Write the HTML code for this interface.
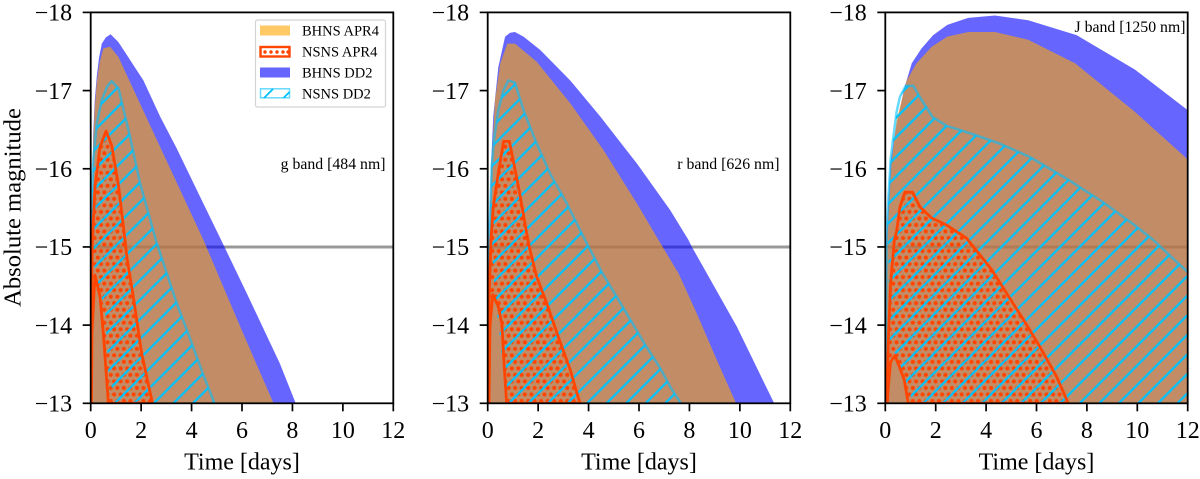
<!DOCTYPE html>
<html lang="en">
<head>
<meta charset="utf-8">
<title>Kilonova light curves</title>
<style>
html,body{margin:0;padding:0;background:#fff;}
svg{display:block;font-family:"Liberation Serif",serif;}
</style>
</head>
<body>
<svg id="chart" xmlns="http://www.w3.org/2000/svg" width="1200" height="479" viewBox="0 0 1200 479">
<defs id="defs"></defs>
<g id="panels"></g>
<text transform="translate(20.5,207.5) rotate(-90)" text-anchor="middle" font-size="24.6" fill="#000">Absolute magnitude</text>
<g>
  <rect x="255.5" y="20" width="130" height="87" rx="2" fill="#fff" fill-opacity="0.85" stroke="#d4d4d4" stroke-width="1.2"/>
  <rect x="260" y="25.5" width="30" height="10" fill="#ffc966"/>
  <rect x="260.5" y="47" width="29" height="9.5" fill="#fff" stroke="#ff4500" stroke-width="2.4"/>
  <g fill="#ff4500">
    <circle cx="265" cy="52" r="1.7"/><circle cx="271" cy="52" r="1.7"/><circle cx="277" cy="52" r="1.7"/><circle cx="283" cy="52" r="1.7"/><circle cx="288" cy="52" r="1.7"/>
  </g>
  <rect x="260" y="67.5" width="30" height="10" fill="#6666ff"/>
  <rect x="260.5" y="88.8" width="29" height="9" fill="#fff" stroke="#66d9ff" stroke-width="1.5"/>
  <g stroke="#00c0ff" stroke-width="1.8">
    <line x1="264" y1="98" x2="273" y2="89"/><line x1="283.5" y1="98" x2="289.5" y2="92"/>
  </g>
  <g font-size="14.5" fill="#000">
    <text x="302" y="35.5">BHNS APR4</text>
    <text x="302" y="56.5">NSNS APR4</text>
    <text x="302" y="77.5">BHNS DD2</text>
    <text x="302" y="98.5">NSNS DD2</text>
  </g>
</g>
</svg>
<script>
// ---------- tick labels ----------
const xTickValues = [0, 2, 4, 6, 8, 10, 12];
const yTickValues = [-18, -17, -16, -15, -14, -13];
const thresholdMagnitude = -15;

// ---------- g band ----------
const gBhnsDd2Time = [0, 0.03, 0.1, 0.16, 0.24, 0.33, 0.44, 0.6, 0.79, 1.1, 2.09, 2.75, 3.41, 4.34, 5.17, 6.2, 7.5, 8.13];
const gBhnsDd2Mag = [-13, -15.1, -16.45, -16.87, -17.18, -17.42, -17.6, -17.68, -17.72, -17.62, -17.13, -16.67, -16.26, -15.64, -15.09, -14.4, -13.51, -13];
const gBhnsApr4Time = [0, 0.03, 0.1, 0.16, 0.24, 0.35, 0.5, 0.77, 1.1, 2.78, 4.47, 5.93, 7.25];
const gBhnsApr4Mag = [-13, -15.0, -16.35, -16.78, -17.1, -17.35, -17.54, -17.56, -17.43, -16.26, -15.09, -13.98, -13];
const gNsnsDd2Time = [0.01, 0.04, 0.1, 0.24, 0.44, 0.65, 0.83, 1.1, 1.56, 1.96, 2.62, 3.41, 3.81, 4.47, 4.91];
const gNsnsDd2Mag = [-13, -15.5, -16.1, -16.58, -16.88, -17.05, -17.12, -17.03, -16.41, -15.81, -15.05, -14.28, -13.94, -13.36, -13];
const gNsnsDd2LowTime = [0.01, 0.03, 0.06, 0.15, 0.3, 0.57, 0.63, 0.7, 0.97];
const gNsnsDd2LowMag = [-13, -14.2, -15.4, -14.75, -14.53, -14.17, -13.81, -13.4, -13];
const gNsnsApr4Time = [0.01, 0.03, 0.07, 0.17, 0.37, 0.61, 0.83, 1.1, 1.36, 1.43, 1.69, 2.02, 2.45];
const gNsnsApr4Mag = [-13, -14.5, -15.09, -15.77, -16.28, -16.48, -16.3, -15.79, -15.09, -14.88, -14.36, -13.64, -13];
const gNsnsApr4LowTime = [0.03, 0.05, 0.17, 0.37, 0.5, 0.7];
const gNsnsApr4LowMag = [-13, -13.9, -14.64, -14.36, -13.9, -13];

// ---------- r band ----------
const rBhnsDd2Time = [0, 0.05, 0.14, 0.22, 0.42, 0.69, 0.89, 1.08, 1.42, 2.08, 3.27, 4.46, 5.91, 7.24, 7.96, 8.1, 9.88, 11.36];
const rBhnsDd2Mag = [-13, -15.0, -16.1, -16.67, -17.3, -17.69, -17.74, -17.75, -17.69, -17.52, -17.13, -16.67, -16.07, -15.47, -15.09, -15, -13.98, -13];
const rBhnsApr4Time = [0, 0.05, 0.14, 0.29, 0.5, 0.78, 1.08, 1.94, 3.27, 4.59, 5.91, 6.77, 7.57, 8.29, 9.09, 9.85];
const rBhnsApr4Mag = [-13, -14.9, -16.0, -16.88, -17.35, -17.6, -17.6, -17.37, -16.84, -16.24, -15.56, -15.09, -14.66, -14.15, -13.55, -13];
const rNsnsDd2Time = [0.01, 0.05, 0.16, 0.25, 0.42, 0.62, 0.82, 1.08, 1.42, 1.88, 2.47, 3.13, 3.86, 4.52, 5.12, 5.71, 6.24, 6.84, 7.24, 7.66];
const rNsnsDd2Mag = [-13, -15.0, -16.03, -16.37, -16.75, -17.0, -17.13, -17.1, -16.75, -16.37, -15.94, -15.56, -15.09, -14.68, -14.36, -14.04, -13.75, -13.45, -13.21, -13];
const rNsnsDd2LowTime = [0.02, 0.05, 0.1, 0.29, 0.5, 0.62, 0.86];
const rNsnsDd2LowMag = [-13, -14.5, -15.3, -14.36, -13.8, -13.38, -13];
const rNsnsApr4Time = [0.02, 0.05, 0.13, 0.22, 0.42, 0.63, 0.86, 1.22, 1.55, 1.65, 1.94, 2.34, 2.8, 3.27, 3.66];
const rNsnsApr4Mag = [-13, -14.3, -15.09, -15.51, -15.94, -16.35, -16.35, -15.77, -15.17, -15, -14.62, -14.28, -13.85, -13.43, -13];
const rNsnsApr4LowTime = [0.05, 0.09, 0.2, 0.42, 0.56, 0.66, 0.75];
const rNsnsApr4LowMag = [-13, -13.98, -14.39, -14.24, -14.02, -13.45, -13];

// ---------- J band ----------
const jBhnsDd2Time = [0, 0.05, 0.12, 0.21, 0.45, 0.78, 1.05, 1.44, 1.9, 2.46, 3.29, 4.35, 5.67, 7.59, 9.9, 12];
const jBhnsDd2Mag = [-13, -15.1, -15.6, -16.1, -16.58, -17.06, -17.35, -17.54, -17.71, -17.84, -17.93, -17.96, -17.9, -17.71, -17.27, -16.75];
const jBhnsApr4Time = [0, 0.05, 0.12, 0.21, 0.45, 0.85, 1.24, 1.84, 2.46, 3.29, 4.35, 5.67, 7.53, 9.9, 12];
const jBhnsApr4Mag = [-13, -15.0, -15.5, -16.0, -16.62, -17.13, -17.35, -17.56, -17.69, -17.75, -17.75, -17.65, -17.35, -16.73, -16.12];
const jNsnsDd2Time = [0.01, 0.05, 0.12, 0.21, 0.32, 0.45, 0.58, 0.81, 1.11, 1.44, 1.88, 2.43, 3.49, 4.55, 5.74, 7.26, 8.65, 9.97, 10.63, 11.69, 12];
const jNsnsDd2Mag = [-13, -15.17, -15.6, -16.11, -16.41, -16.73, -16.92, -17.06, -17.06, -16.88, -16.66, -16.55, -16.44, -16.32, -16.15, -15.86, -15.57, -15.26, -15.09, -14.77, -14.68];
const jNsnsDd2LowTime = [0.01, 0.03, 0.08, 0.12, 0.18, 0.45, 0.78, 1.11, 12];
const jNsnsDd2LowMag = [-13, -14.2, -15.3, -14.83, -13.7, -13.62, -13.3, -13, -13];
const jNsnsApr4Time = [0.05, 0.12, 0.21, 0.36, 0.45, 0.58, 0.78, 1.08, 1.38, 1.84, 2.43, 3.23, 4.22, 4.81, 5.48, 6.14, 6.8, 7.26];
const jNsnsApr4Mag = [-13, -13.81, -14.53, -15.09, -15.2, -15.51, -15.7, -15.7, -15.51, -15.37, -15.28, -15.11, -14.71, -14.41, -14.07, -13.72, -13.34, -13];
const jNsnsApr4LowTime = [0.08, 0.12, 0.21, 0.38, 0.58, 0.75, 0.91];
const jNsnsApr4LowMag = [-13, -13.21, -13.53, -13.61, -13.45, -13.3, -13];

const panels = [
  {key:'g', left:90.7, right:393.3, hatchC:518, dotX:0, dotY:0,
   label:'g band [484 nm]', labelX:385.5, labelY:169,
   bhnsDd2:[gBhnsDd2Time,gBhnsDd2Mag], bhnsApr4:[gBhnsApr4Time,gBhnsApr4Mag],
   nsnsDd2:[gNsnsDd2Time,gNsnsDd2Mag,gNsnsDd2LowTime,gNsnsDd2LowMag],
   nsnsApr4:[gNsnsApr4Time,gNsnsApr4Mag,gNsnsApr4LowTime,gNsnsApr4LowMag]},
  {key:'r', left:487.7, right:790.3, hatchC:990.3, dotX:0, dotY:0,
   label:'r band [626 nm]', labelX:779.5, labelY:169,
   bhnsDd2:[rBhnsDd2Time,rBhnsDd2Mag], bhnsApr4:[rBhnsApr4Time,rBhnsApr4Mag],
   nsnsDd2:[rNsnsDd2Time,rNsnsDd2Mag,rNsnsDd2LowTime,rNsnsDd2LowMag],
   nsnsApr4:[rNsnsApr4Time,rNsnsApr4Mag,rNsnsApr4LowTime,rNsnsApr4LowMag]},
  {key:'j', left:885.3, right:1187.7, hatchC:1483, dotX:0, dotY:0,
   label:'J band [1250 nm]', labelX:1185.5, labelY:32,
   bhnsDd2:[jBhnsDd2Time,jBhnsDd2Mag], bhnsApr4:[jBhnsApr4Time,jBhnsApr4Mag],
   nsnsDd2:[jNsnsDd2Time,jNsnsDd2Mag,jNsnsDd2LowTime,jNsnsDd2LowMag],
   nsnsApr4:[jNsnsApr4Time,jNsnsApr4Mag,jNsnsApr4LowTime,jNsnsApr4LowMag]}
];

const SVGNS = 'http://www.w3.org/2000/svg';
const TOP = 12.4, BOTTOM = 403.3, HATCH = 19.55, DOT = 6.52;
const defs = document.getElementById('defs');
const root = document.getElementById('panels');

function mk(tag, attrs, parent) {
  const e = document.createElementNS(SVGNS, tag);
  for (const k in attrs) e.setAttribute(k, attrs[k]);
  if (parent) parent.appendChild(e);
  return e;
}
function yScale(m) { return TOP + (m + 18) / 5 * (BOTTOM - TOP); }

function bandPath(xs, series) {
  const pts = [];
  series[0].forEach((t, i) => pts.push([xs(t), yScale(series[1][i])]));
  if (series.length > 2) {
    for (let i = series[2].length - 1; i >= 0; i--) pts.push([xs(series[2][i]), yScale(series[3][i])]);
  } else {
    pts.push([xs(series[0][series[0].length - 1]), BOTTOM]);
  }
  return 'M' + pts.map(p => p[0].toFixed(2) + ' ' + p[1].toFixed(2)).join('L') + 'Z';
}
function upperPath(xs, series) {
  return 'M' + series[0].map((t, i) => xs(t).toFixed(2) + ' ' + yScale(series[1][i]).toFixed(2)).join('L');
}

panels.forEach(function (p) {
  const xs = t => p.left + t / 12 * (p.right - p.left);

  // clip + fill patterns
  const clip = mk('clipPath', {id: 'clip-' + p.key}, defs);
  mk('rect', {x: p.left, y: TOP, width: p.right - p.left, height: BOTTOM - TOP}, clip);

  const hat = mk('pattern', {id: 'hatch-' + p.key, patternUnits: 'userSpaceOnUse', width: HATCH, height: HATCH,
    patternTransform: 'translate(' + (p.hatchC % HATCH).toFixed(2) + ',0)'}, defs);
  const hl = {stroke: '#00c3ff', 'stroke-width': 2.2};
  mk('line', Object.assign({x1: -2, y1: 2, x2: 2, y2: -2}, hl), hat);
  mk('line', Object.assign({x1: -2, y1: HATCH + 2, x2: HATCH + 2, y2: -2}, hl), hat);
  mk('line', Object.assign({x1: HATCH - 2, y1: HATCH + 2, x2: HATCH + 2, y2: HATCH - 2}, hl), hat);

  const dots = mk('pattern', {id: 'dots-' + p.key, patternUnits: 'userSpaceOnUse', width: DOT, height: DOT * 2,
    patternTransform: 'translate(' + p.dotX + ',' + p.dotY + ')'}, defs);
  mk('circle', {cx: DOT / 2, cy: DOT / 2, r: 2.05, fill: '#ff4500'}, dots);
  mk('circle', {cx: 0, cy: DOT * 1.5, r: 2.05, fill: '#ff4500'}, dots);
  mk('circle', {cx: DOT, cy: DOT * 1.5, r: 2.05, fill: '#ff4500'}, dots);

  const g = mk('g', {}, root);
  
  

  const marks = mk('g', {'clip-path': 'url(#clip-' + p.key + ')'}, g);
  
  

  const thr = mk('line', {x1: xs(0), x2: xs(12), y1: yScale(thresholdMagnitude), y2: yScale(thresholdMagnitude), stroke: '#000', 'stroke-opacity': 0.4, 'stroke-width': 3}, marks);
  
  

  const blue = mk('path', {d: bandPath(xs, p.bhnsDd2), fill: '#0000ff', 'fill-opacity': 0.6}, marks);
  
  

  const orange = mk('path', {d: bandPath(xs, p.bhnsApr4), fill: '#ffa500', 'fill-opacity': 0.6}, marks);
  
  

  const red = mk('path', {d: bandPath(xs, p.nsnsApr4), fill: 'url(#dots-' + p.key + ')'}, marks);
  
  

  const cyanHatch = mk('path', {d: bandPath(xs, p.nsnsDd2), fill: 'url(#hatch-' + p.key + ')'}, marks);
  
  

  const cyanEdge = mk('path', {d: upperPath(xs, p.nsnsDd2), fill: 'none', stroke: '#00bfff', 'stroke-opacity': 0.6, 'stroke-width': 2.5, 'stroke-linejoin': 'round'}, marks);
  
  

  const redEdge = mk('path', {d: bandPath(xs, p.nsnsApr4), fill: 'none', stroke: '#ff4500', 'stroke-width': 2.8, 'stroke-linejoin': 'round'}, marks);
  
  

  const frame = mk('rect', {x: p.left, y: TOP, width: p.right - p.left, height: BOTTOM - TOP, fill: 'none', stroke: '#000', 'stroke-width': 1.8}, g);
  
  

  xTickValues.forEach(function (v) {
    const x = xs(v);
    const tk = mk('line', {x1: x, x2: x, y1: BOTTOM, y2: BOTTOM + 8, stroke: '#000', 'stroke-width': 1.7}, g);
    
    
    const tx = mk('text', {x: x, y: 438, 'text-anchor': 'middle', 'font-size': 24, fill: '#000'}, g);
    
    
    tx.textContent = String(v);
  });

  yTickValues.forEach(function (v) {
    const y = yScale(v);
    const tk = mk('line', {x1: p.left - 8, x2: p.left, y1: y, y2: y, stroke: '#000', 'stroke-width': 1.7}, g);
    
    
    const tx = mk('text', {x: p.left - 18.5, y: y + 8.3, 'text-anchor': 'end', 'font-size': 24, fill: '#000'}, g);
    
    
    tx.textContent = '\u2212' + Math.abs(v);
  });

  const xt = mk('text', {x: (p.left + p.right) / 2, y: 469.5, 'text-anchor': 'middle', 'font-size': 24, fill: '#000'}, g);
  
  
  xt.textContent = 'Time [days]';

  const lb = mk('text', {x: p.labelX, y: p.labelY, 'text-anchor': 'end', 'font-size': 15.8, fill: '#000'}, g);
  
  
  lb.textContent = p.label;
});
</script>
</body>
</html>
